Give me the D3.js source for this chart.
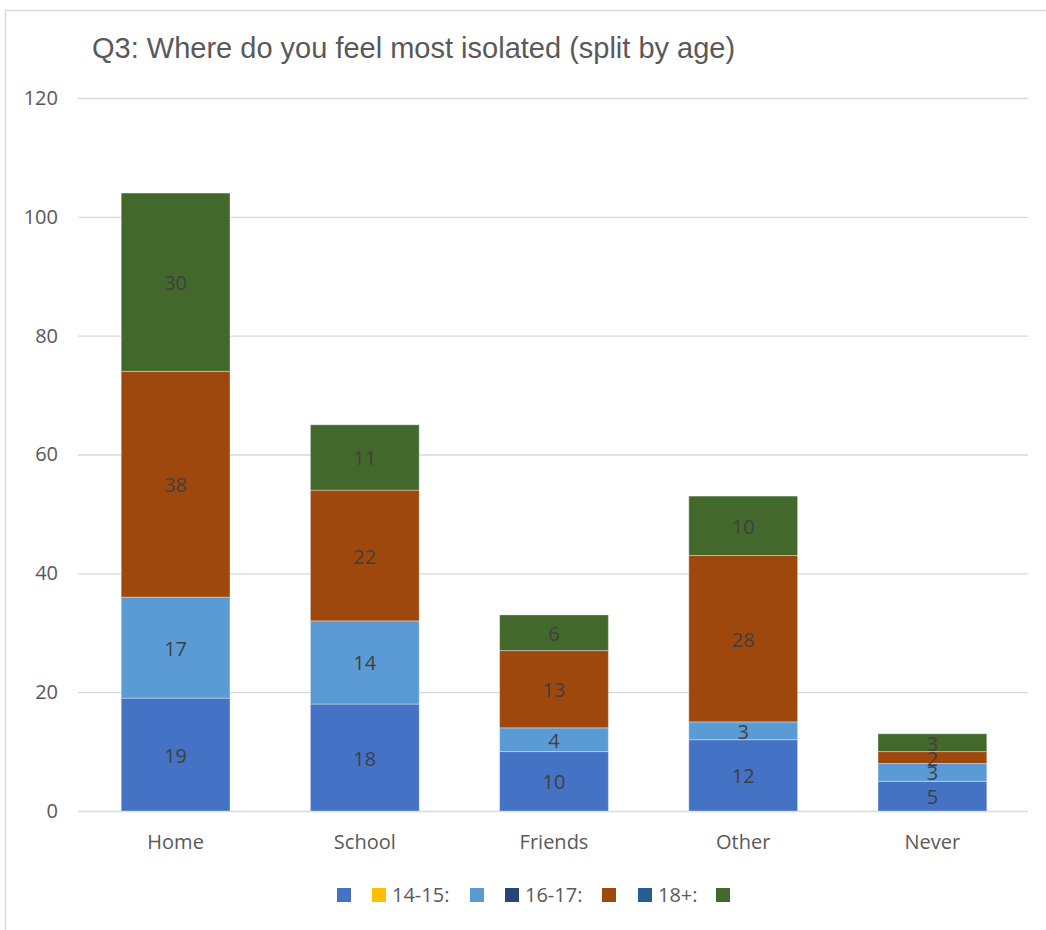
<!DOCTYPE html>
<html><head><meta charset="utf-8">
<script src="https://cdn.jsdelivr.net/npm/d3@7"></script>
<style>body{margin:0;background:#fff}svg{display:block}</style>
</head><body><div id="chart"></div>
<script>
const categories = ["Home","School","Friends","Other","Never"];
const seriesNames = ["", "14-15:", "", "16-17:", "", "18+:", ""];
const seriesColors = ["#4472C4","#FFC000","#5B9BD5","#264478","#9E480E","#255E91","#43682B"];
const s1 = [19,18,10,12,5];
const s2 = [0,0,0,0,0];
const s3 = [17,14,4,3,3];
const s4 = [0,0,0,0,0];
const s5 = [38,22,13,28,2];
const s6 = [0,0,0,0,0];
const s7 = [30,11,6,10,3];
const seriesValues = [s1,s2,s3,s4,s5,s6,s7];
const yTicks = [0,20,40,60,80,100,120];
const title = "Q3: Where do you feel most isolated (split by age)";

(function(){
const W = 1046, H = 930;
const svg = d3.select("#chart").append("svg").attr("width", W).attr("height", H);
svg.append("rect").attr("x",5.5).attr("y",10.5).attr("width",W).attr("height",H).attr("fill","#fff").attr("stroke","#d9d9d9").attr("stroke-width",1.5);

const font = "'Open Sans', Carlito, Lato, sans-serif";
const pl = 78, pr = 1028, pt = 98, pb = 811;
const x = d3.scaleBand().domain(categories).range([81, 1027]).paddingInner(0.425).paddingOuter(0.2125);
const y = d3.scaleLinear().domain([0,120]).range([pb, pt]);

svg.append("text").attr("x", 92).attr("y", 58).text(title)
  .attr("font-family","'Liberation Sans', Arial, sans-serif").attr("font-size",29).attr("fill","#595959");

svg.append("g").selectAll("line").data(yTicks).join("line")
  .attr("x1", pl).attr("x2", pr).attr("y1", d=>y(d)+0.5).attr("y2", d=>y(d)+0.5)
  .attr("stroke","#d9d9d9").attr("stroke-width",1.3);

const yAxis = svg.append("g").attr("transform",`translate(${pl},0)`)
  .call(d3.axisLeft(y).tickValues(yTicks).tickSize(0).tickPadding(20));
yAxis.select(".domain").remove();
yAxis.selectAll("text").attr("font-family",font).attr("font-size",20).attr("fill","#595959");

const xAxis = svg.append("g").attr("transform",`translate(0,${pb})`)
  .call(d3.axisBottom(x).tickSize(0).tickPadding(24));
xAxis.select(".domain").remove();
xAxis.selectAll("text").attr("font-family",font).attr("font-size",20).attr("fill","#595959");

const rows = categories.map((c,i)=>{const o={cat:c}; seriesValues.forEach((s,k)=>o["s"+k]=s[i]); return o;});
const keys = seriesValues.map((_,k)=>"s"+k);
const stack = d3.stack().keys(keys)(rows);

const gBars = svg.append("g");
stack.forEach((layer,k)=>{
  gBars.append("g").attr("fill", seriesColors[k]).selectAll("rect")
    .data(layer.filter(d=>d[1]-d[0]>0)).join("rect")
    .attr("x", d=>x(d.data.cat)).attr("width", x.bandwidth())
    .attr("y", d=>y(d[1])).attr("height", d=>y(d[0])-y(d[1]))
    .attr("stroke","#ffffff").attr("stroke-opacity",0.35).attr("stroke-width",1);
});
const gLab = svg.append("g");
stack.forEach((layer,k)=>{
  gLab.append("g").selectAll("text")
    .data(layer.filter(d=>d[1]-d[0]>0)).join("text")
    .attr("x", d=>x(d.data.cat)+x.bandwidth()/2)
    .attr("y", d=>(y(d[0])+y(d[1]))/2)
    .attr("dy","0.4em").attr("text-anchor","middle")
    .attr("font-family",font).attr("font-size",20).attr("fill","#404040")
    .text(d=>d[1]-d[0]);
});

const legendX = [337,372,470,505,602,638,716];
const lg = svg.append("g");
seriesNames.forEach((n,k)=>{
  lg.append("rect").attr("x",legendX[k]).attr("y",888).attr("width",14).attr("height",14).attr("fill",seriesColors[k]);
  if(n) lg.append("text").attr("x",legendX[k]+20).attr("y",895).attr("dy","0.36em")
    .attr("font-family",font).attr("font-size",20).attr("fill","#595959").text(n);
});
})();
</script></body></html>
